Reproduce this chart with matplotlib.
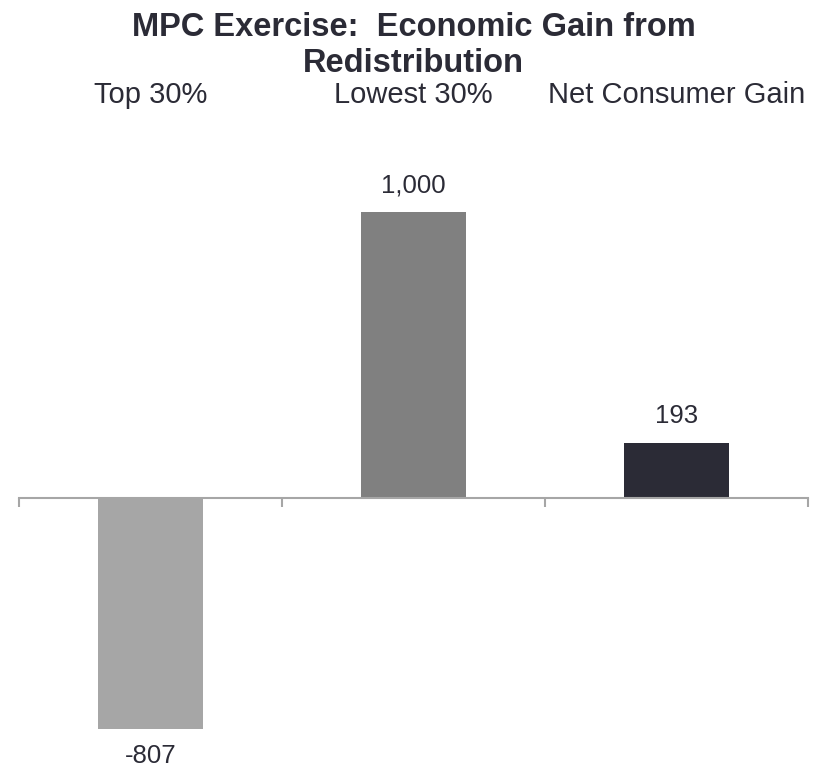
import numpy as np
import matplotlib.pyplot as plt
from matplotlib.transforms import blended_transform_factory

plt.rcParams['font.family'] = ['Liberation Sans', 'DejaVu Sans']

categories = ['Top 30%', 'Lowest 30%', 'Net Consumer Gain']
values = [-807, 1000, 193]
value_labels = ['-807', '1,000', '193']
colors = ['#a6a6a6', '#808080', '#2b2b36']
text_color = '#2b2b36'

fig = plt.figure(figsize=(8.17, 7.69), dpi=100)
# axis line sits at y = 0, spanning the full category width
ax = fig.add_axes([19 / 817, 0.0177, 789 / 817, 0.781])

x = np.arange(len(categories))
bars = ax.bar(x, values, width=0.403, color=colors, zorder=2)

ax.set_xlim(-0.5, len(categories) - 0.5)
ax.set_ylim(-900, 1200)

for s in ['top', 'right', 'left']:
    ax.spines[s].set_visible(False)
ax.spines['bottom'].set_position(('data', 0))
ax.spines['bottom'].set_color('#a6a6a6')
ax.spines['bottom'].set_linewidth(1.5)
ax.spines['bottom'].set_zorder(3)

ax.set_yticks([])
ax.set_xticks(np.arange(len(categories) + 1) - 0.5)
ax.set_xticklabels([])
ax.tick_params(axis='x', direction='out', length=6.5, width=1.5, color='#a6a6a6')

# value labels
for xi, v, lab in zip(x, values, value_labels):
    if v >= 0:
        ax.annotate(lab, (xi, v), xytext=(0, 10.5), textcoords='offset points',
                    ha='center', va='bottom', fontsize=18.5, color=text_color)
    else:
        ax.annotate(lab, (xi, v), xytext=(0, -11), textcoords='offset points',
                    ha='center', va='top', fontsize=18.5, color=text_color)

# category labels across the top
trans = blended_transform_factory(ax.transData, fig.transFigure)
for xi, cat in zip(x, categories):
    ax.text(xi, 1 - 95 / 769, cat, transform=trans, ha='center', va='center',
            fontsize=21, color=text_color)

fig.text(413.5 / 817, 1 - 12 / 769, 'MPC Exercise:  Economic Gain from\nRedistribution',
         ha='center', va='top', fontsize=23.5, fontweight='bold',
         color=text_color, linespacing=1.22)

plt.savefig('out.png', dpi=100)
plt.close()
